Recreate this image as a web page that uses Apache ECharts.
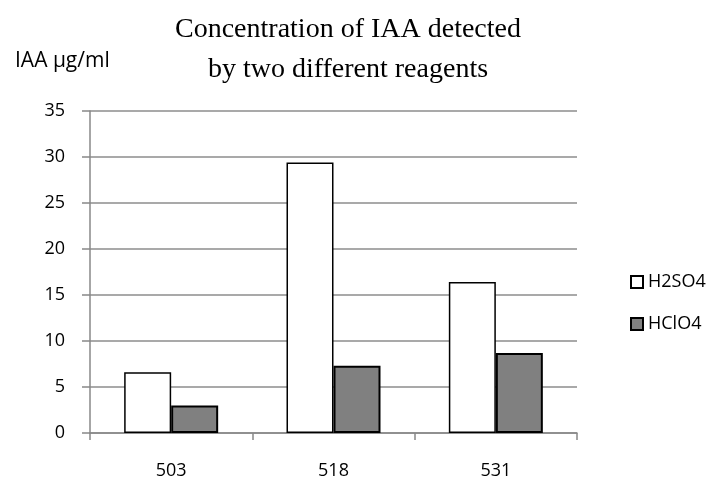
<!DOCTYPE html>
<html>
<head>
<meta charset="utf-8">
<script src="https://cdn.jsdelivr.net/npm/echarts@6/dist/echarts.min.js"></script>
<style>
  html, body { margin: 0; padding: 0; background: #fff; }
  #chart { width: 713px; height: 480px; }
</style>
</head>
<body>
<div id="chart"></div>
<script>
  var categories = ['503', '518', '531'];
  var h2so4 = [6.6, 29.4, 16.4];
  var hclo4 = [3.0, 7.3, 8.7];
  var yTicks = [0, 5, 10, 15, 20, 25, 30, 35];

  var chart = echarts.init(document.getElementById('chart'));
  var option = {
    animation: false,
    title: [
      {
        text: 'Concentration of IAA detected\nby two different reagents',
        left: 343,
        top: 5,
        textAlign: 'center',
        textStyle: {
          fontFamily: 'Liberation Serif',
          fontWeight: 'normal',
          fontSize: 28,
          lineHeight: 40,
          color: '#000'
        }
      },
      {
        text: 'IAA µg/ml',
        left: 10,
        top: 46,
        textStyle: {
          fontFamily: 'Open Sans',
          fontWeight: 'normal',
          fontSize: 21,
          color: '#000'
        }
      }
    ],
    legend: {
      orient: 'vertical',
      left: 625,
      top: 268,
      itemWidth: 12,
      itemHeight: 12,
      itemGap: 24,
      icon: 'rect',
      textStyle: { fontFamily: 'Open Sans', fontSize: 18, color: '#000' },
      data: ['H2SO4', 'HClO4']
    },
    grid: { left: 90, right: 136, top: 111, bottom: 46 },
    xAxis: {
      type: 'category',
      data: categories,
      axisLine: { lineStyle: { color: '#888', width: 1.5 } },
      axisTick: { show: true, length: 7, lineStyle: { color: '#888', width: 1.5 } },
      axisLabel: { fontFamily: 'Open Sans', fontSize: 18, color: '#000', margin: 29 }
    },
    yAxis: {
      type: 'value',
      min: yTicks[0],
      max: yTicks[yTicks.length - 1],
      interval: 5,
      axisLine: { show: true, lineStyle: { color: '#888', width: 1.5 } },
      axisTick: { show: true, length: 8, lineStyle: { color: '#888', width: 1.5 } },
      axisLabel: { fontFamily: 'Open Sans', fontSize: 18, color: '#000', margin: 25 },
      splitLine: { lineStyle: { color: '#8c8c8c', width: 1.5 } }
    },
    series: [
      {
        name: 'H2SO4',
        type: 'bar',
        data: h2so4,
        barWidth: 47,
        barGap: '0%',
        itemStyle: { color: '#fff', borderColor: '#000', borderWidth: 1.5 }
      },
      {
        name: 'HClO4',
        type: 'bar',
        data: hclo4,
        barWidth: 47,
        barGap: '0%',
        itemStyle: { color: '#808080', borderColor: '#000', borderWidth: 2 }
      }
    ]
  };
  chart.setOption(option);
</script>
</body>
</html>
